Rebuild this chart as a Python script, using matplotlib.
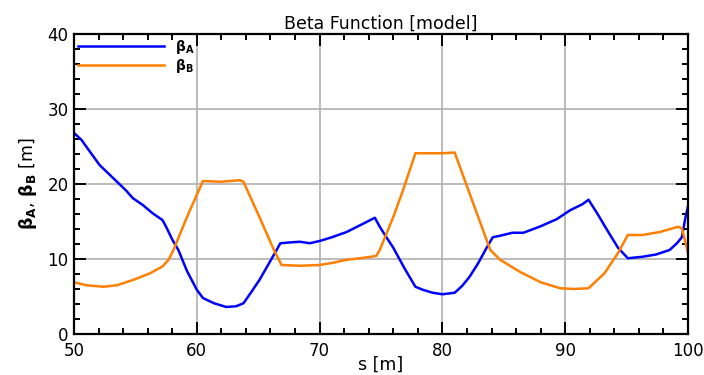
import matplotlib
matplotlib.use('Agg')
import matplotlib.pyplot as plt
from matplotlib.ticker import MultipleLocator

# Data (s in m, beta in m)
s_a = [50.0, 50.6, 51.3, 52.1, 52.8, 53.5, 54.2, 54.8, 55.6, 56.4, 57.2, 57.5, 58.0, 58.5, 59.2,
       60.0, 60.5, 61.4, 62.4, 63.2, 63.8, 64.4, 65.1, 65.8, 66.5, 66.8, 67.5, 68.4, 69.2, 70.0,
       71.0, 72.2, 73.3, 74.5, 74.9, 75.4, 76.0, 76.9, 77.8, 78.4, 79.2, 80.0, 81.0, 81.6, 82.2,
       82.9, 83.6, 84.1, 84.7, 85.7, 86.6, 87.9, 89.3, 90.4, 91.4, 91.9, 92.6, 93.4, 94.3, 95.1,
       96.3, 97.4, 98.5, 99.1, 99.5, 99.8, 100.0]
beta_a = [26.8, 25.9, 24.3, 22.5, 21.4, 20.3, 19.2, 18.1, 17.2, 16.1, 15.2, 14.3, 12.6, 11.2, 8.4,
          5.9, 4.8, 4.1, 3.6, 3.7, 4.1, 5.5, 7.2, 9.2, 11.2, 12.1, 12.2, 12.3, 12.1, 12.4,
          12.9, 13.6, 14.5, 15.5, 14.3, 13.0, 11.5, 8.8, 6.3, 5.9, 5.5, 5.3, 5.5, 6.4, 7.6,
          9.4, 11.5, 12.9, 13.1, 13.5, 13.5, 14.3, 15.3, 16.5, 17.3, 17.9, 16.1, 13.9, 11.5, 10.1,
          10.3, 10.6, 11.2, 12.1, 12.9, 15.6, 17.0]

s_b = [50.0, 51.0, 52.4, 53.5, 54.8, 56.2, 57.2, 57.7, 58.1, 59.2, 60.5, 61.9, 63.5, 63.8, 65.1,
       66.2, 66.4, 66.9, 68.4, 70.0, 71.1, 72.2, 73.3, 74.6, 74.9, 76.0, 76.8, 77.8, 78.7, 80.0,
       81.0, 82.2, 83.9, 84.7, 86.3, 88.0, 89.6, 90.7, 91.9, 93.2, 94.3, 95.1, 96.3, 97.7, 99.2,
       99.5, 99.9, 100.0]
beta_b = [6.9, 6.5, 6.3, 6.5, 7.2, 8.1, 9.0, 9.9, 11.2, 15.6, 20.4, 20.3, 20.5, 20.3, 15.6,
          11.5, 10.8, 9.2, 9.1, 9.2, 9.5, 9.9, 10.1, 10.4, 11.2, 15.6, 19.2, 24.1, 24.1, 24.1,
          24.2, 18.8, 11.2, 9.9, 8.3, 6.9, 6.1, 6.0, 6.1, 8.1, 10.8, 13.2, 13.2, 13.6, 14.3,
          14.1, 11.5, 10.7]

plt.rcParams['font.family'] = ['DejaVu Sans']
plt.rcParams['mathtext.fontset'] = 'dejavusans'

fig = plt.figure(figsize=(7.04, 3.75), dpi=100)
ax = fig.add_axes([74 / 704, 1 - 334 / 375, 614 / 704, 300 / 375])

ax.plot(s_a, beta_a, color='#0000ff', lw=1.8, label=r'$\mathbf{\beta_A}$')
ax.plot(s_b, beta_b, color='#ff7f00', lw=1.8, label=r'$\mathbf{\beta_B}$')

ax.set_xlim(50, 100)
ax.set_ylim(0, 40)
ax.xaxis.set_major_locator(MultipleLocator(10))
ax.xaxis.set_minor_locator(MultipleLocator(2))
ax.yaxis.set_major_locator(MultipleLocator(10))
ax.yaxis.set_minor_locator(MultipleLocator(2))
ax.tick_params(which='both', direction='in', top=True, right=True, width=1.4, labelsize=12)
ax.tick_params(which='major', length=8.5, pad=4)
ax.tick_params(axis='x', which='major', pad=6)
ax.tick_params(which='minor', length=4.5)
ax.grid(True, which='major', color='#b0b0b0', lw=1.2)
ax.set_axisbelow(True)
for sp in ax.spines.values():
    sp.set_linewidth(1.6)

ax.set_title('Beta Function [model]', fontsize=12.5, pad=4)
ax.set_xlabel('s [m]', fontsize=12.5, labelpad=-3)
ax.set_ylabel(r'$\mathbf{\beta_A}$, $\mathbf{\beta_B}$ [m]', fontsize=12.5, labelpad=6)

ax.legend(loc='upper left', frameon=False, handlelength=6.2, fontsize=10,
          borderaxespad=0.2, labelspacing=0.05, borderpad=0.1, handletextpad=0.8)

fig.savefig('out.png', dpi=100)
